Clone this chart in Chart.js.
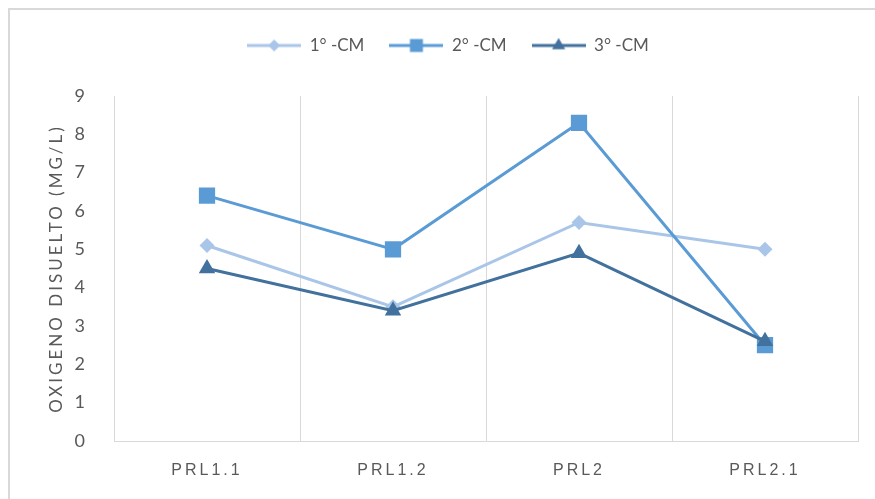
<!DOCTYPE html>
<html>
<head>
<meta charset="utf-8">
<script src="https://cdn.jsdelivr.net/npm/chart.js@4"></script>
<style>
  html, body { margin: 0; padding: 0; background: #ffffff; }
  canvas { display: block; }
</style>
</head>
<body>
<canvas id="chart" width="875" height="499"></canvas>
<script>
// Sampling points along the river
const categories = ['PRL1.1', 'PRL1.2', 'PRL2', 'PRL2.1'];

// Dissolved oxygen (mg/L) per campaign
const campaign1 = [5.1, 3.5, 5.7, 5.0];
const campaign2 = [6.4, 5.0, 8.3, 2.5];
const campaign3 = [4.5, 3.4, 4.9, 2.6];

const seriesNames = ['1° -CM', '2° -CM', '3° -CM'];
const yTicks = [0, 1, 2, 3, 4, 5, 6, 7, 8, 9];

const colors = ['#A9C6E8', '#5B9BD5', '#41719C'];
const styles = ['rectRot', 'rect', 'triangle'];
const radii = [7.5, 11.5, 9.5];
const gray = '#595959';
const gridGray = '#D9D9D9';

// Small line-plus-marker swatch used as the legend symbol
function legendSwatch(color, style, r) {
  const c = document.createElement('canvas');
  c.width = 54; c.height = 22;
  const g = c.getContext('2d');
  g.strokeStyle = color;
  g.lineWidth = 3;
  g.beginPath(); g.moveTo(0, 11); g.lineTo(54, 11); g.stroke();
  g.fillStyle = color;
  g.beginPath();
  const rr = r * 0.8;
  if (style === 'rectRot') {
    g.moveTo(27, 11 - rr); g.lineTo(27 + rr, 11); g.lineTo(27, 11 + rr); g.lineTo(27 - rr, 11);
  } else if (style === 'rect') {
    const s = rr * Math.SQRT1_2;
    g.rect(27 - s, 11 - s, 2 * s, 2 * s);
  } else {
    const h = rr;
    g.moveTo(27, 11 - h);
    g.lineTo(27 + h * Math.cos(Math.PI / 6), 11 + h / 2);
    g.lineTo(27 - h * Math.cos(Math.PI / 6), 11 + h / 2);
  }
  g.closePath();
  g.fill();
  return c;
}

const swatches = [0, 1, 2].map(i => legendSwatch(colors[i], styles[i], radii[i]));

const seriesValues = [campaign1, campaign2, campaign3];
const datasets = seriesValues.map((vals, i) => ({
  label: seriesNames[i],
  data: vals,
  borderColor: colors[i],
  backgroundColor: colors[i],
  borderWidth: 3,
  pointStyle: styles[i],
  pointRadius: radii[i],
  pointHoverRadius: radii[i],
  pointBorderWidth: 0,
  pointBackgroundColor: colors[i],
  tension: 0,
  order: 2 - i
}));

// Outer frame lines (top and left), fixed legend band and letter-spaced axis text
const framePlugin = {
  id: 'frame',
  beforeUpdate(chart) {
    const lg = chart.legend;
    if (lg && !lg._fixed) {
      const origFit = lg.fit.bind(lg);
      lg.fit = function () { origFit(); this.height = 84; };
      lg._fixed = true;
    }
  },
  beforeDraw(chart) {
    const ctx = chart.ctx;
    ctx.save();
    ctx.strokeStyle = gridGray;
    ctx.lineWidth = 2;
    ctx.beginPath();
    ctx.moveTo(9, 499); ctx.lineTo(9, 9); ctx.lineTo(875, 9);
    ctx.stroke();
    ctx.restore();
  },
  afterUpdate(chart) {
    const x = chart.scales.x, y = chart.scales.y;
    if (x && !x._spaced) {
      const orig = x.drawLabels.bind(x);
      x.drawLabels = function (area) {
        const c = this.ctx; c.save(); c.letterSpacing = '3px'; orig(area); c.restore();
      };
      x._spaced = true;
    }
    if (y && !y._spaced) {
      const origT = y.drawTitle.bind(y);
      y.drawTitle = function (area) {
        const c = this.ctx; c.save(); c.letterSpacing = '3px'; origT(area); c.restore();
      };
      y._spaced = true;
    }
  }
};

new Chart(document.getElementById('chart'), {
  type: 'line',
  data: { labels: categories, datasets: datasets },
  plugins: [framePlugin],
  options: {
    responsive: false,
    animation: false,
    devicePixelRatio: 1,
    layout: { padding: { top: 12, left: 38, right: 17, bottom: 0 } },
    plugins: {
      tooltip: { enabled: false },
      legend: {
        position: 'top',
        align: 'center',
        labels: {
          usePointStyle: true,
          pointStyleWidth: 54,
          boxHeight: 16,
          padding: 25,
          color: gray,
          font: { family: 'Lato, "Open Sans", sans-serif', size: 17 },
          generateLabels(chart) {
            return chart.data.datasets.map((ds, i) => ({
              text: ds.label,
              pointStyle: swatches[i],
              fillStyle: colors[i],
              strokeStyle: colors[i],
              lineWidth: 0,
              fontColor: gray,
              hidden: false,
              datasetIndex: i
            }));
          }
        }
      }
    },
    scales: {
      x: {
        type: 'category',
        offset: true,
        grid: { display: true, offset: true, color: gridGray, lineWidth: 1, drawTicks: false },
        border: { display: true, color: gridGray, width: 1 },
        ticks: {
          color: gray,
          padding: 20,
          font: { family: '"Liberation Sans Narrow", "Liberation Sans", sans-serif', size: 16 }
        },
        afterFit(scale) { scale.height = 58; }
      },
      y: {
        min: 0,
        max: 9,
        afterBuildTicks(scale) { scale.ticks = yTicks.map(v => ({ value: v })); },
        grid: { display: false, drawTicks: false },
        border: { display: false },
        ticks: {
          color: gray,
          padding: 29,
          font: { family: 'Lato, "Open Sans", sans-serif', size: 18 }
        },
        title: {
          display: true,
          text: 'OXIGENO DISUELTO (MG/L)',
          color: gray,
          padding: { top: 8, bottom: 0 },
          font: { family: 'Lato, "Open Sans", sans-serif', size: 17 }
        },
        afterFit(scale) { scale.width = 76; }
      }
    }
  }
});
</script>
</body>
</html>
